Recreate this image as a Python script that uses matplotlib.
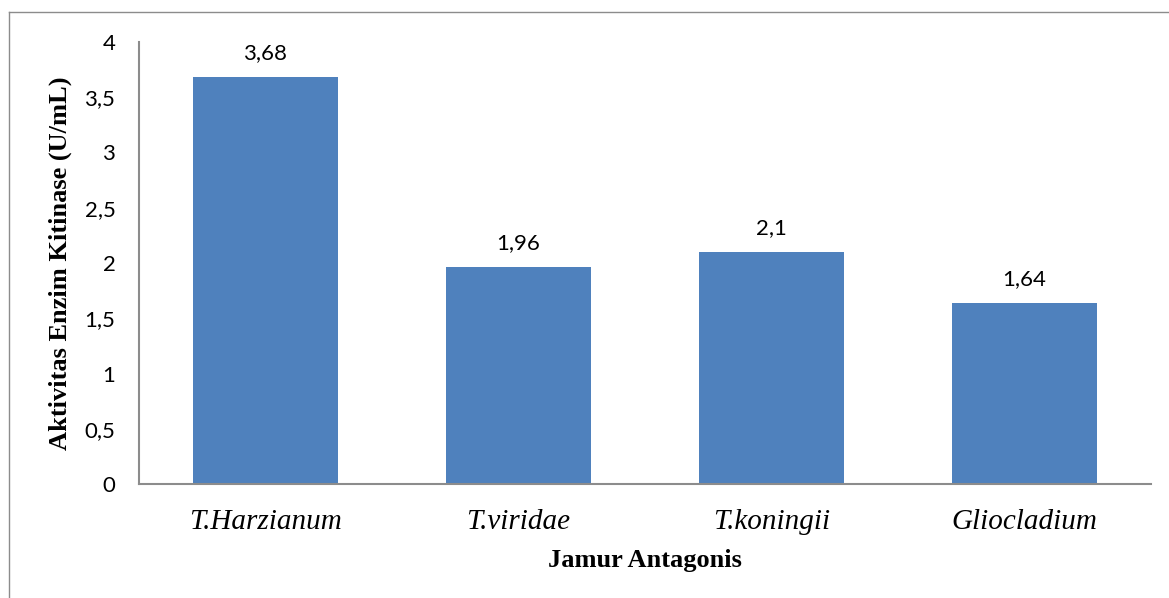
import matplotlib
matplotlib.use("Agg")
import matplotlib.pyplot as plt
from matplotlib.lines import Line2D

jamur = ["T.Harzianum", "T.viridae", "T.koningii", "Gliocladium"]
aktivitas = [3.68, 1.96, 2.1, 1.64]
yticks = [0, 0.5, 1, 1.5, 2, 2.5, 3, 3.5, 4]


def koma(v):
    # decimal comma, no trailing zeros
    return ("%g" % v).replace(".", ",")


fig = plt.figure(figsize=(11.69, 5.98), dpi=100)
ax = fig.add_axes([0.1189, 0.1906, 0.8657, 0.7392])

x = range(len(jamur))
bars = ax.bar(x, aktivitas, width=0.57, color="#4F81BD")

ax.set_xlim(-0.5, len(jamur) - 0.5)
ax.set_ylim(0, 4)
ax.set_yticks(yticks)
ax.set_yticklabels([koma(v) for v in yticks], fontfamily="Lato", fontsize=16)
ax.set_xticks(list(x))
ax.set_xticklabels(jamur, fontfamily="Liberation Serif", fontstyle="italic", fontsize=21)
ax.tick_params(axis="both", length=0)
ax.tick_params(axis="y", pad=17)
ax.tick_params(axis="x", pad=18)

for s in ["top", "right"]:
    ax.spines[s].set_visible(False)
for s in ["left", "bottom"]:
    ax.spines[s].set_color("#8c8c8c")
    ax.spines[s].set_linewidth(1.5)

for b, v in zip(bars, aktivitas):
    ax.annotate(koma(v), (b.get_x() + b.get_width() / 2, v), xytext=(0, 13),
                textcoords="offset points", ha="center", va="baseline",
                fontfamily="Lato", fontsize=16)

ax.set_xlabel("Jamur Antagonis", fontfamily="Liberation Serif", fontweight="bold",
              fontsize=19, va="center")
ax.xaxis.set_label_coords(0.5, -0.172)
ax.set_ylabel("Aktivitas Enzim Kitinase (U/mL)", fontfamily="Liberation Serif",
              fontweight="bold", fontsize=19, va="center")
ax.yaxis.set_label_coords(-0.078, 0.5)

# chart area frame (only top and left edges fall inside the image)
fig.add_artist(Line2D([9 / 1169, 9 / 1169], [0, 1 - 12 / 598], transform=fig.transFigure,
                      color="#8c8c8c", linewidth=1))
fig.add_artist(Line2D([9 / 1169, 1], [1 - 12 / 598, 1 - 12 / 598], transform=fig.transFigure,
                      color="#8c8c8c", linewidth=1))

fig.savefig("out.png", dpi=100)
